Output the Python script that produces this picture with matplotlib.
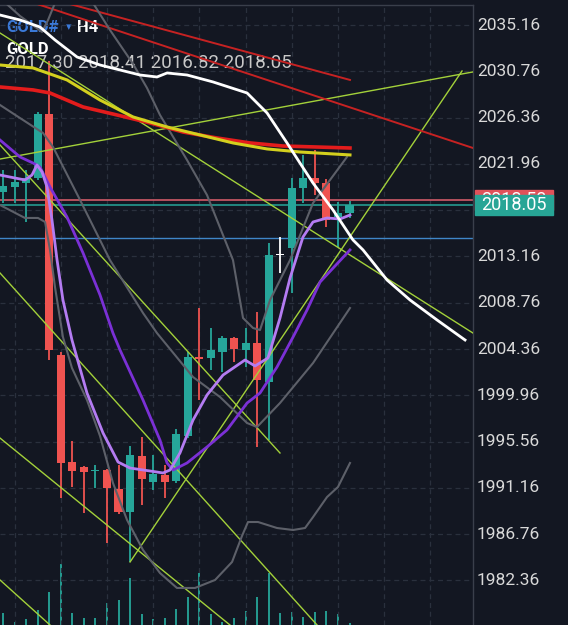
import matplotlib.pyplot as plt
from matplotlib.patches import Rectangle
import numpy as np

BG = '#131722'
GRID = '#2a303d'
TEAL = '#26a69a'
RED = '#ef5350'

# GOLD# H4 candles (bar index 0..30)
opens  = [2019.29, 2019.76, 2020.14, 2020.62, 2026.70, 2003.79, 1993.62, 1993.15, 1992.77, 1992.86,
          1991.06, 1988.87, 1994.19, 1991.72, 1992.39, 1991.82, 1996.10, 2003.60, 2003.51, 2004.08,
          2005.41, 2004.27, 2004.94, 2001.23, 2013.30, 2013.97, 2019.67, 2020.62, 2020.14, 2016.91,
          2017.30]
highs  = [2021.38, 2021.38, 2021.38, 2026.89, 2031.75, 2004.08, 1995.62, 1993.24, 1993.34, 1992.96,
          1993.34, 1995.14, 1996.00, 1994.29, 1993.34, 1996.76, 2004.08, 2008.26, 2006.36, 2005.60,
          2005.51, 2006.36, 2007.88, 2014.44, 2015.01, 2020.62, 2022.81, 2023.28, 2020.52, 2018.34,
          2018.41]
lows   = [2018.24, 2018.24, 2016.44, 2020.43, 2003.32, 1990.20, 1991.25, 1988.78, 1991.15, 1985.92,
          1988.68, 1984.12, 1989.54, 1990.96, 1990.20, 1991.63, 1995.90, 1999.52, 2002.37, 2002.18,
          2003.13, 2002.66, 1995.05, 1995.71, 2011.59, 2009.69, 2018.24, 2019.00, 2015.96, 2014.06,
          2016.82]
closes = [2019.86, 2020.24, 2020.62, 2026.70, 2004.27, 1993.53, 1992.77, 1992.67, 1992.86, 1991.15,
          1988.87, 1994.29, 1992.01, 1992.48, 1991.72, 1996.29, 2003.60, 2003.41, 2004.27, 2005.41,
          2004.37, 2004.94, 2001.42, 2013.30, 2013.30, 2019.67, 2020.62, 2020.14, 2016.63, 2017.29,
          2018.05]
volumes = [1200, 300, 600, 1500, 3300, 6100, 1200, 700, 700, 2200, 2500, 4700, 1100, 600, 700, 1600,
           2800, 5200, 1100, 300, 700, 1400, 2800, 5200, 1200, 1300, 800, 1300, 1400, 1100, 200]

ask_price = 2018.53
last_price = 2018.05
blue_level = 2014.92

price_ticks = [2035.16, 2030.76, 2026.36, 2021.96, 2017.56, 2013.16, 2008.76, 2004.36,
               1999.96, 1995.56, 1991.16, 1986.76, 1982.36]
grid_bars = [1, 5, 9, 13, 17, 21, 25, 29, 33, 37]

# moving averages (bar position, price)
white_x = [-0.26, 1.47, 3.20, 4.50, 6.41, 8.40, 11.86, 13.33, 14.20, 15.93, 18.18, 21.13, 22.86,
           24.59, 25.71, 26.84, 28.57, 30.30, 31.17, 33.25, 35.24, 37.58, 40.00]
white_p = [2036.11, 2035.64, 2034.97, 2033.74, 2032.12, 2031.36, 2030.41, 2030.22, 2030.60, 2030.41,
           2029.75, 2028.70, 2026.80, 2023.95, 2022.04, 2020.14, 2017.58, 2014.73, 2013.78, 2010.92,
           2009.02, 2007.12, 2005.22]

redma_x = [-0.26, 2.60, 4.07, 6.93, 9.87, 12.73, 15.58, 18.53, 21.39, 24.24, 30.04]
redma_p = [2029.27, 2028.99, 2028.70, 2027.37, 2026.61, 2025.85, 2024.99, 2024.42, 2023.95, 2023.66, 2023.47]

yellow_x = [-0.26, 2.60, 5.54, 8.40, 11.26, 14.20, 17.06, 19.91, 22.86, 25.71, 30.04]
yellow_p = [2031.36, 2031.08, 2029.94, 2028.03, 2026.42, 2025.47, 2024.71, 2023.95, 2023.38, 2023.09, 2022.81]

lav_x = [-0.26, 1.90, 2.51, 2.94, 3.38, 3.81, 4.24, 4.68, 5.19, 5.97, 7.27, 8.66, 9.96, 11.00, 13.33,
         13.85, 14.46, 15.32, 16.45, 17.66, 19.05, 20.95, 21.82, 22.94, 23.98, 24.85, 25.97, 26.84,
         28.05, 29.18, 30.04]
lav_p = [2020.90, 2020.43, 2020.90, 2021.86, 2021.19, 2019.76, 2016.63, 2012.82, 2009.02, 2005.22,
         2000.18, 1996.38, 1993.62, 1993.05, 1992.67, 1992.58, 1992.86, 1994.48, 1997.61, 1999.99,
         2001.89, 2003.32, 2002.75, 2003.51, 2007.31, 2011.11, 2015.01, 2016.44, 2016.82, 2016.72,
         2017.10]

purple_x = [-0.26, 1.47, 2.60, 3.20, 4.07, 5.54, 6.93, 8.40, 9.52, 10.13, 12.12, 13.59, 14.20, 14.72,
            15.93, 17.66, 19.39, 21.13, 22.25, 23.72, 25.11, 26.32, 27.45, 30.04]
purple_p = [2024.23, 2022.62, 2022.04, 2021.67, 2019.76, 2016.91, 2013.49, 2009.50, 2005.88, 2004.27,
            1999.52, 1995.71, 1993.53, 1992.86, 1993.53, 1995.05, 1996.67, 1999.23, 2000.18, 2002.65,
            2005.50, 2008.07, 2010.73, 2013.78]

# bollinger bands
bb_up_x = [-0.26, 1.47, 3.38, 3.90, 4.50, 6.15, 7.79, 9.26, 11.26, 12.47, 13.59, 15.93, 17.66, 19.91,
           20.78, 21.65, 22.25, 23.12, 24.85, 26.84, 29.78]
bb_up_p = [2037.73, 2036.02, 2034.50, 2035.64, 2037.25, 2040.20, 2037.25, 2034.69, 2031.46, 2029.17,
           2026.61, 2022.33, 2019.00, 2012.82, 2007.31, 2006.36, 2006.17, 2009.02, 2012.82, 2018.24,
           2022.62]
bb_mid_x = [-0.26, 1.47, 3.46, 4.33, 6.67, 9.26, 12.12, 13.33, 16.45, 18.79, 21.13, 21.99, 23.98,
            26.84, 30.04]
bb_mid_p = [2027.56, 2026.32, 2024.90, 2023.57, 2018.53, 2012.82, 2007.79, 2005.88, 2001.70, 1999.80,
            1997.33, 1996.95, 1999.23, 2003.03, 2008.26]
bb_low_x = [-0.26, 1.90, 3.03, 3.64, 4.07, 4.50, 5.19, 5.97, 7.27, 8.40, 9.52, 10.74, 12.12, 13.59,
            15.06, 16.62, 18.36, 19.83, 20.69, 21.21, 22.08, 23.72, 25.11, 26.15, 26.84, 28.05,
            29.00, 30.04]
bb_low_p = [2018.05, 2016.82, 2016.82, 2016.44, 2013.78, 2010.26, 2005.50, 2002.56, 1999.52, 1996.09,
            1991.63, 1988.11, 1985.26, 1983.07, 1981.65, 1981.65, 1982.41, 1984.12, 1986.59, 1987.92,
            1987.92, 1987.35, 1987.16, 1987.35, 1988.39, 1990.29, 1991.25, 1993.53]

# hand drawn trend lines: (x0, p0, x1, p1)
lime_trends = [(-0.26, 2022.42, 40.69, 2030.70),
               (11.00, 1984.12, 39.74, 2030.79),
               (-0.26, 2034.40, 40.69, 2005.88),
               (-0.26, 2023.76, 23.98, 1994.48),
               (-0.26, 2011.59, 27.19, 1978.13),
               (-0.26, 1995.90, 19.65, 1978.13),
               (-0.26, 1982.41, 4.07, 1978.13)]
red_trends = [(4.50, 2037.54, 30.04, 2029.94),
              (1.90, 2037.54, 40.69, 2023.47)]


fig = plt.figure(figsize=(5.68, 6.25), dpi=100, facecolor=BG)
ax = fig.add_axes([0, 0, 473 / 568, 620.5 / 625])
vax = ax.twinx()
vax.set_zorder(0)
ax.set_zorder(1)
ax.patch.set_visible(False)

ax.set_xlim(-0.26, 40.69)
ax.set_ylim(1978.13, 2037.11)
ax.set_xticks([])
ax.set_yticks([])
for side in ['left', 'bottom']:
    ax.spines[side].set_visible(False)
for side in ['top', 'right']:
    ax.spines[side].set_color('#3a3f4b')
    ax.spines[side].set_linewidth(1)

# volumes
x = np.arange(len(opens))
vax.set_ylim(0, 62050)
vax.vlines(x, 0, volumes, colors=TEAL, lw=1.3)
vax.set_axis_off()

for t in price_ticks:
    ax.axhline(t, color=GRID, lw=0.9, ls=(0, (4, 3)), zorder=0)
for b in grid_bars:
    ax.axvline(b, color=GRID, lw=0.9, ls=(0, (4, 3)), zorder=0)

# candles
o, h, l, c = map(np.array, (opens, highs, lows, closes))
cols = np.where(c > o, TEAL, np.where(c < o, RED, 'white'))
ax.vlines(x, l, h, colors=cols, lw=1.3, zorder=3)
ax.bar(x, np.maximum(np.abs(c - o), 0.13), bottom=np.minimum(o, c), width=0.7,
       color=cols, zorder=3)

ax.axhline(ask_price, color='#e0616e', lw=1.1, zorder=2)
ax.axhline(last_price, color=TEAL, lw=1.1, zorder=2)
ax.axhline(blue_level, color='#3f86c8', lw=1.0, zorder=2)

for x0, p0, x1, p1 in lime_trends:
    ax.plot([x0, x1], [p0, p1], color='#a3d13a', lw=1.0, zorder=4)
for x0, p0, x1, p1 in red_trends:
    ax.plot([x0, x1], [p0, p1], color='#c62222', lw=1.4, zorder=4)

ax.plot(bb_up_x, bb_up_p, color='#5d6069', lw=1.5, zorder=4)
ax.plot(bb_mid_x, bb_mid_p, color='#5d6069', lw=1.5, zorder=4)
ax.plot(bb_low_x, bb_low_p, color='#5d6069', lw=1.5, zorder=4)
ax.plot(redma_x, redma_p, color='#e31c1c', lw=2.6, zorder=5)
ax.plot(yellow_x, yellow_p, color='#d3d01e', lw=2.2, zorder=5)
ax.plot(purple_x, purple_p, color='#7b30d6', lw=2.0, zorder=5)
ax.plot(lav_x, lav_p, color='#b47cf2', lw=2.0, zorder=5)
ax.plot(white_x, white_p, color='white', lw=2.0, zorder=6)

# price scale on the right
tr = ax.get_yaxis_transform()
for t in price_ticks:
    ax.text(1.0085, t, '{:.2f}'.format(t), transform=tr, ha='left', va='center',
            color='#d9d9d9', fontsize=12.5, family='Roboto', clip_on=False, zorder=7)

ax.add_patch(Rectangle((1.004, ask_price - 0.95), 0.165, 1.9, transform=tr,
                       color='#e0525a', clip_on=False, zorder=10))
ax.text(1.087, ask_price, '{:.2f}'.format(ask_price), transform=tr, ha='center', va='center',
        color='white', fontsize=13, family='Roboto', clip_on=False, zorder=11)
ax.add_patch(Rectangle((1.004, last_price - 0.95), 0.165, 1.9, transform=tr,
                       color='#27a596', clip_on=False, zorder=12))
ax.text(1.087, last_price, '{:.2f}'.format(last_price), transform=tr, ha='center', va='center',
        color='white', fontsize=13, family='Roboto', clip_on=False, zorder=13)

# header, drawn under the chart lines
fig.text(6.5 / 568, 1 - 27.5 / 625, 'GOLD#', color='#3b7ad9', fontsize=12, fontweight='bold',
         family='Roboto', va='center', zorder=0.5)
fig.text(66 / 568, 1 - 27.5 / 625, '\u25be', color='#3b7ad9', fontsize=8,
         family='DejaVu Sans', va='center', zorder=0.5)
fig.text(77 / 568, 1 - 27.5 / 625, 'H4', color='white', fontsize=12, fontweight='bold',
         family='Roboto', va='center', zorder=0.5)
fig.text(6.5 / 568, 1 - 49 / 625, 'GOLD', color='white', fontsize=12, fontweight='bold',
         family='Roboto', va='center', zorder=0.5)
ohlc = '{:.2f} {:.2f} {:.2f} {:.2f}'.format(opens[-1], highs[-1], lows[-1], closes[-1])
fig.text(5 / 568, 1 - 63 / 625, ohlc, color='#c8c8c8', fontsize=13.5, family='Roboto',
         va='center', zorder=0.5)

fig.savefig('out.png', dpi=100, facecolor=BG)
